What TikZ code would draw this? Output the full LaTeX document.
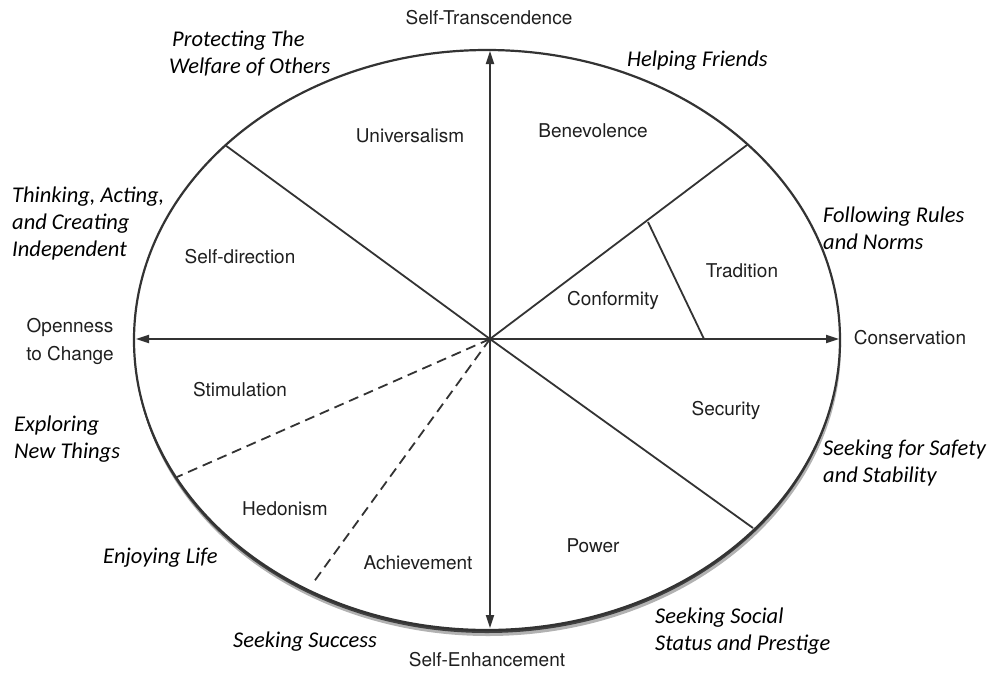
\documentclass[tikz,border=0pt]{standalone}
\usepackage{fontspec}
\setmainfont{Carlito}
\newfontfamily\polefont{TeX Gyre Heros}
\usetikzlibrary{arrows.meta,positioning}

\tikzset{
  value/.style={font=\polefont\fontsize{19}{22}\selectfont, text=black!88},
  pole/.style={font=\polefont\fontsize{19}{28}\selectfont, text=black!88, align=center},
  note/.style={font=\itshape\fontsize{22.5}{27}\selectfont, align=left, anchor=west, inner sep=0pt},
  axis/.style={draw=black!80, line width=1.8pt, -{Triangle[length=13pt,width=8pt]}},
  divider/.style={draw=black!80, line width=1.8pt},
  dashdiv/.style={divider, dash pattern=on 10pt off 6pt},
}

\begin{document}
\begin{tikzpicture}[x=1pt,y=-1pt]
  \useasboundingbox (0,0) rectangle (993,673);

  % circle with its shadow
  \fill[black!30] (488,346) ellipse [x radius=353pt, y radius=290pt];
  \fill[black!75] (487,343) ellipse [x radius=353pt, y radius=290pt];
  \draw[draw=black!80, line width=2.2pt, fill=white] (487,340) ellipse [x radius=353pt, y radius=290pt];

  \coordinate (o) at (490,339);
  \coordinate (top) at (490,51);
  \coordinate (bottom) at (490,628);
  \coordinate (left) at (136,339);
  \coordinate (right) at (839,339);
  \coordinate (ul) at (225,145);
  \coordinate (ur) at (747,145);
  \coordinate (lr) at (753,528);
  \coordinate (stim) at (177,477);
  \coordinate (achv) at (313,583);
  \coordinate (trad1) at (648,222);
  \coordinate (trad2) at (704,339);

  % axes
  \draw[axis] (o) -- (top);
  \draw[axis] (o) -- (bottom);
  \draw[axis] (o) -- (left);
  \draw[axis] (o) -- (right);

  % value borders
  \draw[divider] (o) -- (ul);
  \draw[divider] (o) -- (ur);
  \draw[divider] (o) -- (lr);
  \draw[divider] (trad1) -- (trad2);
  \draw[dashdiv] (o) -- (stim);
  \draw[dashdiv] (o) -- (achv);

  % poles
  \node[pole] (st) at (489,18) {Self-Transcendence};
  \node[pole] (se) at (487,660) {Self-Enhancement};
  \node[pole] (oc) at (70,341) {Openness\\to Change};
  \node[pole] (co) at (910,338) {Conservation};

  % values
  \node[value] (uni) at (410,136) {Universalism};
  \node[value] (ben) at (593,131) {Benevolence};
  \node[value] (sd) at (240,257) {Self-direction};
  \node[value] (tra) at (742,271) {Tradition};
  \node[value] (con) at (613,300) {Conformity};
  \node[value] (sti) at (240,390) {Stimulation};
  \node[value] (sec) at (726,410) {Security};
  \node[value] (hed) at (285,509) {Hedonism};
  \node[value] (ach) at (418,563) {Achievement};
  \node[value] (pow) at (593,546) {Power};

  % meanings
  \node[note] (n1) at (169,54) {\hspace*{3pt}Protecting The\\Welfare of Others};
  \node[note] (n2) at (627,61) {Helping Friends};
  \node[note] (n3) at (12,223) {Thinking, Acting,\\and Creating\\Independent};
  \node[note] (n4) at (823,228) {Following Rules\\and Norms};
  \node[note] (n5) at (14,439) {Exploring\\New Things};
  \node[note] (n6) at (823,463) {Seeking for Safety\\and Stability};
  \node[note] (n7) at (103,558) {Enjoying Life};
  \node[note] (n8) at (233,642) {Seeking Success};
  \node[note] (n9) at (655,631) {Seeking Social\\Status and Prestige};
\end{tikzpicture}
\end{document}
